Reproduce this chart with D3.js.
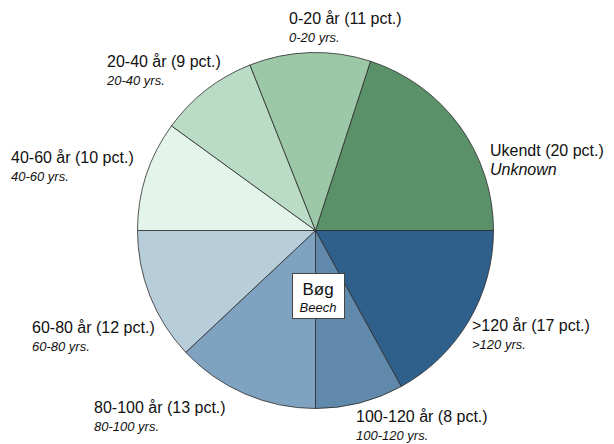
<!DOCTYPE html>
<html>
<head>
<meta charset="utf-8">
<script src="https://cdn.jsdelivr.net/npm/d3@7"></script>
<style>
  html, body { margin: 0; padding: 0; background: #fff; }
  svg { display: block; font-family: "Liberation Sans", Arial, sans-serif; }
</style>
</head>
<body>
<svg id="chart" width="614" height="444"></svg>
<script>
// Age classes of beech stands, share of area in percent
const labelsDa = ["Ukendt", ">120 år", "100-120 år", "80-100 år", "60-80 år", "40-60 år", "20-40 år", "0-20 år"];
const labelsEn = ["Unknown", ">120 yrs.", "100-120 yrs.", "80-100 yrs.", "60-80 yrs.", "40-60 yrs.", "20-40 yrs.", "0-20 yrs."];
const shares = [20, 17, 8, 13, 12, 10, 9, 11];
const colors = ["#5b9168", "#2f5f8b", "#6189ab", "#7ea2c0", "#b8cdda", "#e3f4eb", "#badcc7", "#9dc8a7"];
// label anchor (left x, baseline y of first line)
const labelPos = [[490, 156], [472, 331], [356, 422], [94, 413], [32, 333], [11, 163], [107, 67], [289, 24]];

const svg = d3.select("#chart");
const cx = 315.5, cy = 230.5, r = 178;

const pie = d3.pie().sort(null).value(d => d)
  .startAngle(Math.PI * 0.1).endAngle(Math.PI * 2.1);
const arc = d3.arc().innerRadius(0).outerRadius(r);

const g = svg.append("g").attr("transform", `translate(${cx},${cy})`);
g.selectAll("path")
  .data(pie(shares))
  .join("path")
  .attr("d", arc)
  .attr("fill", (d, i) => colors[i])
  .attr("stroke", "#2b2b2b")
  .attr("stroke-width", 0.8);

// Slice labels
const lab = svg.append("g").attr("fill", "#111");
shares.forEach((v, i) => {
  const [x, y] = labelPos[i];
  lab.append("text")
    .attr("x", x).attr("y", y)
    .attr("font-size", 16)
    .text(`${labelsDa[i]} (${v} pct.)`);
  lab.append("text")
    .attr("x", x).attr("y", y + (i === 0 ? 19 : 18))
    .attr("font-size", i === 0 ? 16 : 13)
    .attr("font-style", "italic")
    .text(labelsEn[i]);
});

// Species box in the middle
const box = svg.append("g");
box.append("rect")
  .attr("x", 292.5).attr("y", 273.5)
  .attr("width", 52).attr("height", 45)
  .attr("fill", "#fff").attr("stroke", "#444").attr("stroke-width", 1);
box.append("text")
  .attr("x", 318).attr("y", 295)
  .attr("text-anchor", "middle").attr("font-size", 17).attr("fill", "#111")
  .text("Bøg");
box.append("text")
  .attr("x", 318).attr("y", 312)
  .attr("text-anchor", "middle").attr("font-size", 13).attr("font-style", "italic").attr("fill", "#111")
  .text("Beech");
</script>
</body>
</html>
